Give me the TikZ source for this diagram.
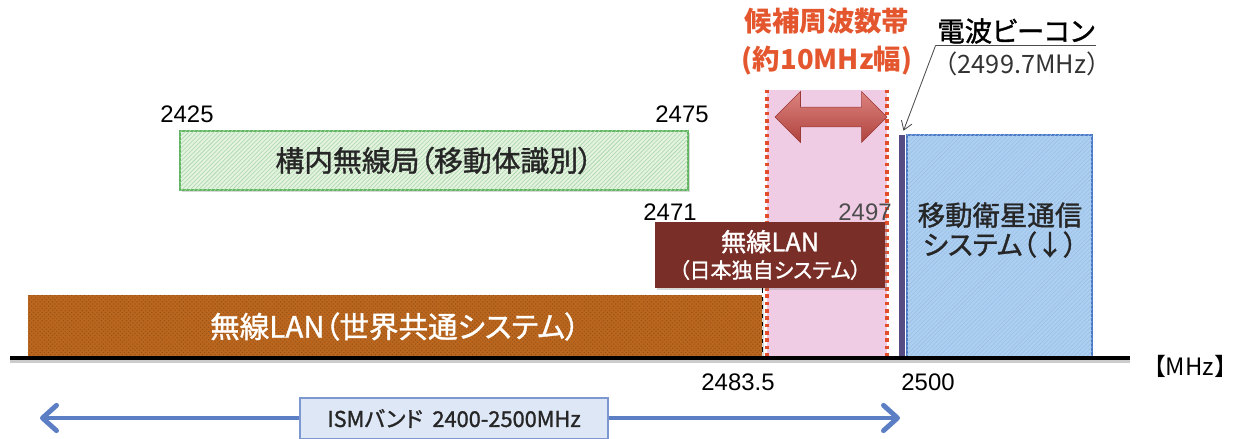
\documentclass[tikz,border=0pt]{standalone}
\usepackage{fontspec}
\setmainfont{Liberation Sans}
\newfontfamily\jp[RawFeature=+palt, FakeBold=1.2]{Noto Sans CJK JP}
\newfontfamily\jpw{Noto Sans CJK JP}
\definecolor{bandorange}{RGB}{186,102,30}
\definecolor{bandmaroon}{RGB}{122,46,40}
\definecolor{bandpink}{RGB}{240,204,228}
\definecolor{bandred}{RGB}{226,78,44}
\definecolor{bandtitle}{RGB}{228,86,46}
\definecolor{bandarrow}{RGB}{206,78,72}
\definecolor{bandgreen}{RGB}{96,182,96}
\definecolor{bandgreenfill}{RGB}{228,242,224}
\definecolor{bandblue}{RGB}{72,122,200}
\definecolor{bandbluefill}{RGB}{170,208,242}
\definecolor{beaconpurple}{RGB}{86,76,132}
\definecolor{ismblue}{RGB}{92,126,196}
\definecolor{ismfill}{RGB}{222,231,246}
\usetikzlibrary{arrows.meta,positioning,shapes.arrows,patterns,shadows}
\tikzset{
  bandbox/.style={rectangle, inner sep=0pt, align=center},
  boxshadow/.style={drop shadow={shadow xshift=1.5pt, shadow yshift=-1.5pt, opacity=0.3}},
  freqlabel/.style={font=\fontsize{17}{20}\selectfont, inner sep=1pt},
  reddots/.style={draw=bandred, line width=2.6pt, dash pattern=on 2.6pt off 2.6pt},
}

\begin{document}
\begin{tikzpicture}[x=0.025cm, y=-0.025cm]
  \useasboundingbox (0,0) rectangle (1243,439);

  %% Candidate band
  \node[bandbox, fill=bandpink, minimum width=3cm, minimum height=6.7cm] (cand) at (827,224) {};
  \draw[reddots] (cand.north west) -- (cand.south west);
  \draw[reddots] (cand.north east) -- (cand.south east);
  \node[font=\jpw\bfseries\fontsize{19.5}{27}\selectfont, text=bandtitle, align=center] (candtitle) at (827,42) {候補周波数帯\\(約10MHz幅)};
  \node[double arrow, double arrow head extend=0.39cm, inner xsep=0pt, inner ysep=0.24cm, minimum height=2.8cm, top color=bandarrow!70!white, bottom color=bandarrow!85!black, draw=bandarrow!75!black] (candarrow) at (831,117) {};

  %% Premises radio station
  \node[bandbox, draw=bandgreen, line width=1.5pt, fill=bandgreenfill, boxshadow, postaction={pattern=north east lines, pattern color=bandgreen!55}, minimum width=12.7cm, minimum height=1.475cm, font=\jp\fontsize{20.5}{22}\selectfont, text=black!85] (premises) at (434,160.5) {構内無線局（移動体識別）};
  \node[freqlabel] (f2425) at (187,114) {2425};
  \node[freqlabel] (f2475) at (682,114) {2475};

  %% Wireless LAN (worldwide)
  \node[bandbox, fill=bandorange, boxshadow, postaction={pattern=crosshatch dots, pattern color=bandorange!80!black}, minimum width=18.35cm, minimum height=1.575cm, font=\jp\fontsize{21}{22}\selectfont, text=white] (wlanww) at (395,326.5) {無線LAN（世界共通システム）};

  %% Wireless LAN (Japan only)
  \node[bandbox, fill=bandmaroon, boxshadow, minimum width=5.75cm, minimum height=1.65cm, font=\jp\fontsize{18}{19}\selectfont, text=white] (wlanjp) at (770,255) {無線LAN\\{\fontsize{15}{19}\selectfont （日本独自システム）}};
  \node[freqlabel] (f2471) at (670,212) {2471};
  \node[freqlabel, text=black!70] (f2497) at (865,212) {2497};
  \draw[dashed, line width=1pt] (wlanww.north east |- wlanjp.south) -- (wlanww.south east);

  %% Mobile satellite
  \node[bandbox, draw=bandblue, line width=1pt, fill=bandbluefill, postaction={pattern=north east lines, pattern color=bandblue!50}, minimum width=4.625cm, minimum height=5.575cm] (sat) at (999.5,246.5) {};
  \node[font=\jp\fontsize{19.5}{21}\selectfont, align=center, text=black!85] (sattxt) at (1000,230) {移動衛星通信\\システム（↓）};

  %% Beacon
  \node[bandbox, fill=beaconpurple, minimum width=0.15cm, minimum height=5.575cm] (beacon) at (902,246.5) {};
  \node[font=\jp\fontsize{19.5}{20}\selectfont, inner sep=1pt] (beacontxt) at (1016,31) {電波ビーコン};
  \draw[line width=0.8pt, black!70] (beacontxt.south west) -- (beacontxt.south east);
  \node[font=\jpw\fontsize{18}{20}\selectfont, text=black!80] (beaconfreq) at (1022,64) {（2499.7MHz）};
  \draw[-{Straight Barb[length=6pt,width=8pt]}, black!70, line width=0.6pt, shorten >=3pt] (beacontxt.south west) -- (beacon.north);

  %% Axis
  \coordinate (axisL) at (10,358);
  \coordinate (axisR) at (1130,358);
  \draw[line width=3pt, black!20] ([yshift=-2pt]axisL) -- ([yshift=-2pt]axisR);
  \draw[line width=3pt] (axisL) -- (axisR);
  \node[font=\jpw\fontsize{17}{20}\selectfont] (unit) at (1190,366) {【MHz】};
  \node[freqlabel] (f2483) at (738,382) {2483.5};
  \node[freqlabel] (f2500) at (928,382) {2500};

  %% ISM band
  \coordinate (ismL) at (40,418);
  \coordinate (ismR) at (900,418);
  \draw[ismblue, line width=3.5pt, {Straight Barb[round,length=10pt,width=18pt]}-{Straight Barb[round,length=10pt,width=18pt]}] (ismL) -- (ismR);
  \node[bandbox, draw=ismblue!80, line width=1pt, fill=ismfill, minimum width=7.7cm, minimum height=1.025cm, font=\jp\fontsize{15.5}{18}\selectfont, text=black!85] (ism) at (454,418.5) {ISMバンド\ \ 2400-2500MHz};
\end{tikzpicture}
\end{document}
